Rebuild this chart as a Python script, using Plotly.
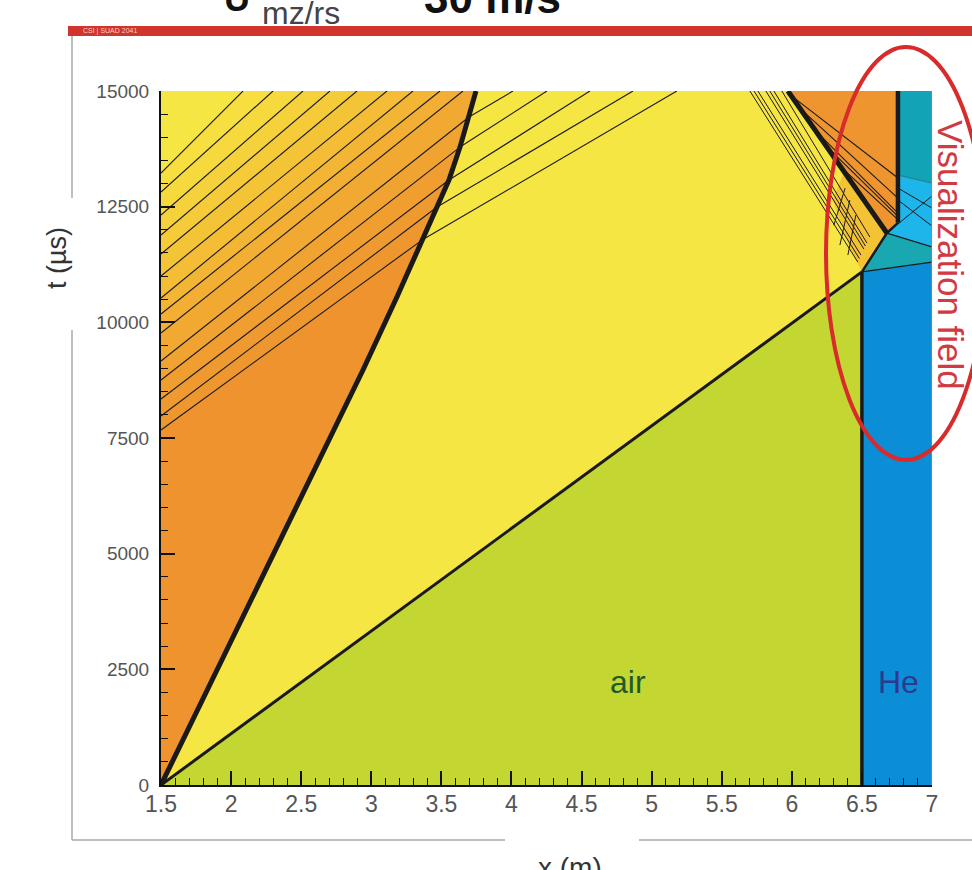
import plotly.graph_objects as go

# ---------------- data ----------------
x_ticks = [1.5, 2, 2.5, 3, 3.5, 4, 4.5, 5, 5.5, 6, 6.5, 7]
x_tick_labels = ["1.5", "2", "2.5", "3", "3.5", "4", "4.5", "5", "5.5", "6", "6.5", "7"]
t_ticks = [0, 2500, 5000, 7500, 10000, 12500, 15000]
t_tick_labels = ["0", "2500", "5000", "7500", "10000", "12500", "15000"]

X_MIN, X_MAX, T_MAX = 1.5, 7.0, 15000

# incident shock in air
shock_x = [1.5, 6.5]
shock_t = [0, 11090]
# contact surface (driver gas / air)
contact_x = [1.5, 2.941, 3.183, 3.362, 3.469, 3.554, 3.633, 3.697, 3.747]
contact_t = [0, 8969, 10547, 11778, 12492, 13075, 13788, 14437, 15000]
# air / He interface
interface_x = [6.5, 6.5, 6.678, 6.757, 6.757]
interface_t = [0, 11090, 11930, 12150, 15000]
# transmitted shock in He and edges of the He sub-zones
he_shock_x = [6.5, 7.0]
he_shock_t = [11090, 11300]
he_edge_x = [6.678, 7.0]
he_edge_t = [11930, 11630]
he_split_x = [6.757, 7.0]
he_split_t = [13183, 13010]
# reflected shock (thick, right)
refl_x = [5.972, 6.678]
refl_t = [15000, 11930]

# reflected expansion fan from the left wall (top line first)
fan_wall_t = [13227, 12816, 12319, 11887, 11476, 11001, 10525, 10179, 9769,
              9163, 8753, 8342, 7975, 7672]
fan_end_x = [2.085, 2.299, 2.513, 2.705, 2.898, 3.112, 3.297, 3.490, 3.654,
             3.697, 3.633, 3.554, 3.469, 3.362]
fan_end_t = [15000, 15000, 15000, 15000, 15000, 15000, 15000, 15000, 15000,
             14437, 13788, 13075, 12492, 11778]
fan_colors = ["#F6DF3F", "#F6D93D", "#F5D23B", "#F5CB39", "#F4C437", "#F4BD35",
              "#F3B634", "#F2AF33", "#F2A932", "#F1A331", "#F09E30", "#EF9A30",
              "#EF972F", "#EE932E"]
# fan waves transmitted through the contact surface (to the top edge)
fan_out_x = [4.011, 4.253, 4.560, 4.867, 5.180]

# waves reflected at the interface (thin bundle)
bundle_x0 = [6.471, 6.482, 6.493, 6.514, 6.525, 6.536, 6.557]
bundle_t0 = [11303, 11380, 11454, 11584, 11650, 11714, 11843]
bundle_x1 = [5.701, 5.730, 5.758, 5.815, 5.843, 5.872, 5.929]
hatch_x0 = [6.343, 6.400, 6.300]
hatch_t0 = [11670, 11454, 12100]
hatch_x1 = [6.414, 6.457, 6.380]
hatch_t1 = [12643, 12319, 12900]
# waves inside the upper-right orange zone
orange_x0 = [5.986, 6.072, 6.165, 6.250, 6.343]
orange_t0 = [14922, 14588, 14156, 13800, 13378]
orange_t1 = [13119, 12686, 12362, 12290, 12220]
# waves inside the light-blue He zone
he_wave_t0 = [12124, 12643, 12902]
he_wave_t1 = [12729, 12081, 12470]
# gold zone left of the reflected shock
gold_x = [6.5, 6.678, 6.375, 6.293, 6.429]
gold_t = [11090, 11930, 13248, 12643, 11519]

# ---------------- colours ----------------
YELLOW = "#F6E644"
GREEN = "#C3D632"
BLUE = "#0B8ED5"
TEAL = "#19A8B2"
LIGHTBLUE = "#1EB6EA"
TEAL_TOP = "#13A3B6"
ORANGE = "#EE952F"
GOLD = "#F3C235"
INK = "#1a1a1a"

W, H = 972, 870
PL, PR, PT, PB = 161, 932, 91, 785


def px(xp):
    return (xp - PL) / (PR - PL)


def py(yp):
    return (PB - yp) / (PB - PT)


fig = go.Figure()


def poly(xs, ts, color):
    fig.add_trace(go.Scatter(x=xs, y=ts, mode="lines", fill="toself",
                             fillcolor=color, line=dict(width=0.5, color=color),
                             hoverinfo="skip", showlegend=False))


def seg(xs, ts, width, color=INK):
    fig.add_trace(go.Scatter(x=xs, y=ts, mode="lines",
                             line=dict(width=width, color=color),
                             hoverinfo="skip", showlegend=False))


# --- regions ---
poly([shock_x[0], interface_x[0], shock_x[1]], [shock_t[0], interface_t[0], shock_t[1]], GREEN)
poly([interface_x[0], X_MAX, he_shock_x[1], he_shock_x[0]],
     [0, 0, he_shock_t[1], he_shock_t[0]], BLUE)
poly([he_shock_x[0], he_shock_x[1], he_edge_x[1], he_edge_x[0]],
     [he_shock_t[0], he_shock_t[1], he_edge_t[1], he_edge_t[0]], TEAL)
poly([he_edge_x[0], he_edge_x[1], he_split_x[1], he_split_x[0], interface_x[3]],
     [he_edge_t[0], he_edge_t[1], he_split_t[1], he_split_t[0], interface_t[3]], LIGHTBLUE)
poly([he_split_x[0], he_split_x[1], X_MAX, interface_x[4]],
     [he_split_t[0], he_split_t[1], T_MAX, T_MAX], TEAL_TOP)
poly([refl_x[0], interface_x[4], interface_x[3], interface_x[2]],
     [refl_t[0], interface_t[4], interface_t[3], interface_t[2]], ORANGE)
poly(gold_x, gold_t, GOLD)

# left fan bands: paint "region below line k" from the top line down
for k in range(len(fan_wall_t)):
    ex, et = fan_end_x[k], fan_end_t[k]
    xs = [X_MIN, X_MIN, ex]
    ts = [0, fan_wall_t[k], et]
    for cx, ct in reversed(list(zip(contact_x, contact_t))):
        if ct <= et:
            xs.append(cx)
            ts.append(ct)
    poly(xs, ts, fan_colors[k])

# --- thin wave lines ---
for k in range(len(fan_wall_t)):
    seg([X_MIN, fan_end_x[k]], [fan_wall_t[k], fan_end_t[k]], 1.1)
n_out = len(fan_out_x)
for k in range(n_out):
    j = len(fan_wall_t) - n_out + k
    seg([fan_end_x[j], fan_out_x[k]], [fan_end_t[j], T_MAX], 1.1)
for k in range(len(bundle_x0)):
    seg([bundle_x0[k], bundle_x1[k]], [bundle_t0[k], T_MAX], 1.0)
for k in range(len(hatch_x0)):
    seg([hatch_x0[k], hatch_x1[k]], [hatch_t0[k], hatch_t1[k]], 1.0)
for k in range(len(orange_x0)):
    seg([orange_x0[k], interface_x[4]], [orange_t0[k], orange_t1[k]], 1.1)
for k in range(len(he_wave_t0)):
    seg([interface_x[4], X_MAX], [he_wave_t0[k], he_wave_t1[k]], 1.0)
seg(he_shock_x, he_shock_t, 1.3)
seg(he_edge_x, he_edge_t, 1.3)
seg(he_split_x, he_split_t, 0.8, "#2a6f80")

# --- main waves ---
seg(shock_x, shock_t, 3)
seg(interface_x[:2], interface_t[:2], 3.5)
seg(interface_x[1:4], interface_t[1:4], 2.5)
seg(interface_x[3:], interface_t[3:], 4.5)
seg(contact_x, contact_t, 5)
seg(refl_x, refl_t, 5)

# --- shapes ---
GREY = "#A8A8A8"
shapes = [
    dict(type="line", xref="x", yref="y", x0=X_MAX, x1=X_MAX, y0=0, y1=T_MAX,
         line=dict(color="#E06060", width=1.5)),
    dict(type="rect", xref="paper", yref="paper", x0=px(68), x1=px(975), y0=py(36), y1=py(26),
         fillcolor="#D0342C", line=dict(width=0)),
    dict(type="line", xref="paper", yref="paper", x0=px(72), x1=px(72), y0=py(36), y1=py(198),
         line=dict(color=GREY, width=1.5)),
    dict(type="line", xref="paper", yref="paper", x0=px(72), x1=px(72), y0=py(330), y1=py(840),
         line=dict(color=GREY, width=1.5)),
    dict(type="line", xref="paper", yref="paper", x0=px(72), x1=px(505), y0=py(840), y1=py(840),
         line=dict(color=GREY, width=1.5)),
    dict(type="line", xref="paper", yref="paper", x0=px(639), x1=px(975), y0=py(840), y1=py(840),
         line=dict(color=GREY, width=1.5)),
    dict(type="circle", xref="paper", yref="paper", x0=px(826), x1=px(986), y0=py(460), y1=py(47),
         line=dict(color="#D92B2B", width=4), layer="above"),
]


def note(text, xp, yp, size, color, family="Liberation Sans, Arial", angle=0):
    return dict(text=text, x=px(xp), y=py(yp), xref="paper", yref="paper", showarrow=False,
                xanchor="center", yanchor="middle", textangle=angle,
                font=dict(family=family, size=size, color=color))


annotations = [
    note("t (\u00b5s)", 57, 258, 27, "#333333", angle=-90),
    note("x (m)", 570, 867, 28, "#333333"),
    dict(text="air", x=4.83, y=2226, xref="x", yref="y", showarrow=False,
         xanchor="center", yanchor="middle",
         font=dict(family="Liberation Sans, Arial", size=32, color="#1E5A2C")),
    dict(text="He", x=6.764, y=2226, xref="x", yref="y", showarrow=False,
         xanchor="center", yanchor="middle",
         font=dict(family="Liberation Sans, Arial", size=32, color="#2B3990")),
    note("Visualization field", 951, 255, 35, "#D23A42", angle=90),
    note("<b>U</b>", 237, -1, 36, "#111111"),
    note("mz/rs", 301, 13, 32, "#444444"),
    note("<b>30 m/s</b>", 492, -2, 44, "#111111"),
    note("CSI | SUAD 2041", 110, 31, 7, "#F6D0C8"),
]

fig.update_layout(
    width=W, height=H,
    margin=dict(l=PL, r=W - PR, t=PT, b=H - PB),
    plot_bgcolor=YELLOW, paper_bgcolor="white",
    showlegend=False,
    shapes=shapes, annotations=annotations,
    xaxis=dict(range=[X_MIN, X_MAX], tickmode="array", tickvals=x_ticks, ticktext=x_tick_labels,
               ticks="inside", ticklen=14, tickwidth=1.5, tickcolor="#111111",
               showline=True, linecolor="#111111", linewidth=2, showgrid=False, zeroline=False,
               minor=dict(tickmode="linear", tick0=1.5, dtick=0.1, ticks="inside", ticklen=7,
                          tickwidth=1, tickcolor="#111111", showgrid=False),
               tickfont=dict(family="Liberation Sans Narrow, Liberation Sans, Arial", size=23,
                             color="#555555"),
               ticklabelstandoff=-3, layer="above traces"),
    yaxis=dict(range=[0, T_MAX], tickmode="array", tickvals=t_ticks, ticktext=t_tick_labels,
               ticks="inside", ticklen=14, tickwidth=1.5, tickcolor="#111111",
               showline=True, linecolor="#111111", linewidth=2, showgrid=False, zeroline=False,
               minor=dict(tickmode="linear", tick0=0, dtick=500, ticks="inside", ticklen=7,
                          tickwidth=1, tickcolor="#111111", showgrid=False),
               tickfont=dict(family="Liberation Sans, Arial", size=19, color="#555555"),
               ticklabelstandoff=6, layer="above traces"),
)

fig.write_html("out.html", config={"displayModeBar": False},
               post_script="document.body.style.margin='0px';document.body.style.overflow='hidden';")
